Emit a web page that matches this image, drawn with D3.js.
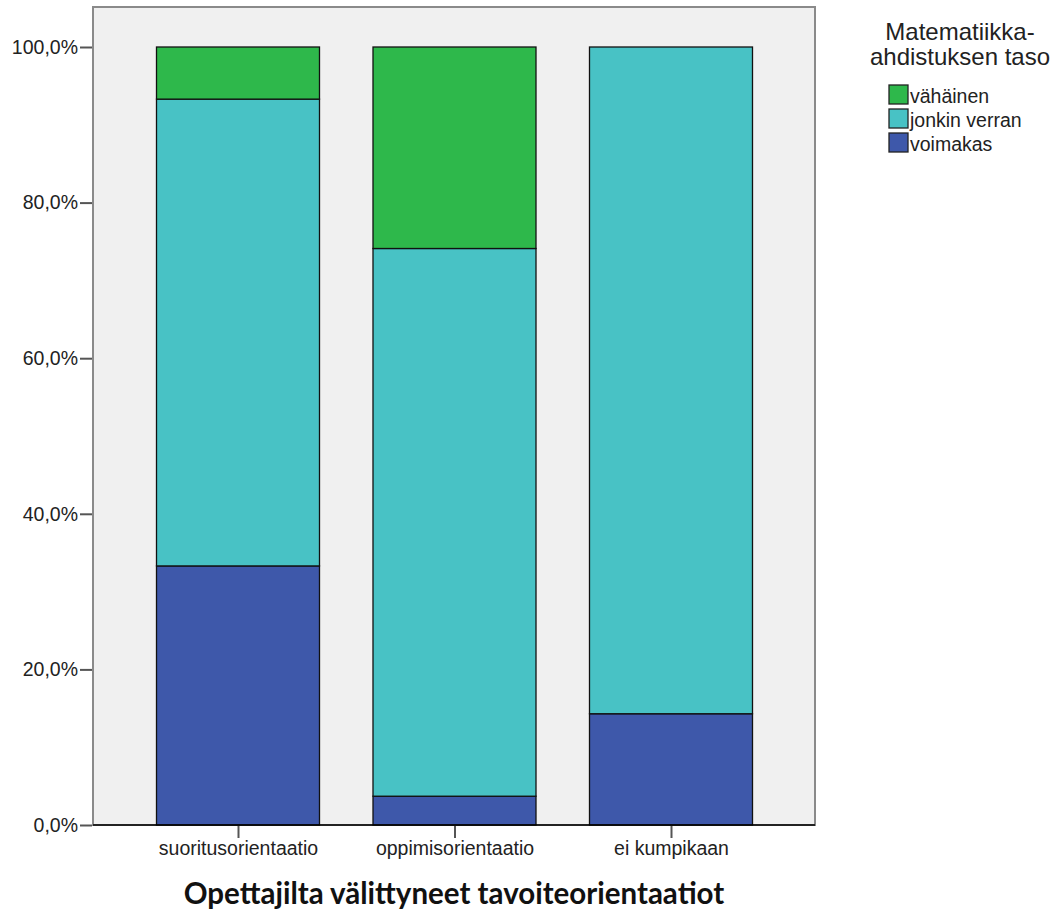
<!DOCTYPE html>
<html><head><meta charset="utf-8">
<script src="https://cdn.jsdelivr.net/npm/d3@7"></script>
<style>body{margin:0;background:#fff}svg{display:block}</style>
</head><body>
<svg id="c" width="1057" height="911"></svg>
<script>
const categories = ["suoritusorientaatio", "oppimisorientaatio", "ei kumpikaan"];
const seriesNames = ["voimakas", "jonkin verran", "vähäinen"];
const voimakas = [33.3, 3.7, 14.3];
const jonkinVerran = [60.0, 70.4, 85.7];
const vahainen = [6.7, 25.9, 0.0];
const yTicks = [0, 20, 40, 60, 80, 100];
const colors = ["#3e58aa", "#48c2c5", "#2eb84b"];
const legendOrder = ["vähäinen", "jonkin verran", "voimakas"];
const legendTitle = ["Matematiikka-", "ahdistuksen taso"];
const xTitle = "Opettajilta välittyneet tavoiteorientaatiot";

const svg = d3.select("#c");
const font = "'Liberation Sans', Arial, sans-serif";
const frame = {l: 93, r: 815, t: 7, b: 825};
const y = d3.scaleLinear().domain([0, 100]).range([825, 47]);
const x = d3.scalePoint().domain(categories).range([238, 671]);
const barW = 163;

svg.append("rect").attr("x", frame.l).attr("y", frame.t)
  .attr("width", frame.r - frame.l).attr("height", frame.b - frame.t)
  .attr("fill", "#f0f0f0").attr("stroke", "#8a8a8a").attr("stroke-width", 2);

const data = categories.map((c, i) => ({cat: c, "voimakas": voimakas[i], "jonkin verran": jonkinVerran[i], "vähäinen": vahainen[i]}));
const stack = d3.stack().keys(seriesNames)(data);
const color = d3.scaleOrdinal().domain(seriesNames).range(colors);

stack.forEach(s => {
  svg.append("g").selectAll("rect").data(s.filter(d => d[1] - d[0] > 0)).join("rect")
    .attr("x", d => x(d.data.cat) - barW / 2)
    .attr("y", d => y(d[1]))
    .attr("width", barW)
    .attr("height", d => y(d[0]) - y(d[1]))
    .attr("fill", color(s.key))
    .attr("stroke", "#111").attr("stroke-width", 1.3);
});

svg.append("line").attr("x1", frame.l).attr("x2", frame.r).attr("y1", 825).attr("y2", 825)
  .attr("stroke", "#000").attr("stroke-width", 1.5);

const yAxis = d3.axisLeft(y).tickValues(yTicks).tickSize(12).tickPadding(2)
  .tickFormat(d => d3.format(".1f")(d).replace(".", ",") + "%");
const gy = svg.append("g").attr("transform", `translate(${frame.l - 1},0)`).call(yAxis);
gy.select(".domain").remove();
gy.selectAll(".tick line").attr("stroke", "#555").attr("stroke-width", 2);
gy.selectAll("text").attr("font-family", font).attr("font-size", 19.5).attr("fill", "#222");

const xAxis = d3.axisBottom(x).tickSize(12).tickPadding(3);
const gx = svg.append("g").attr("transform", `translate(0,826)`).call(xAxis);
gx.select(".domain").remove();
gx.selectAll(".tick line").attr("stroke", "#555").attr("stroke-width", 2);
gx.selectAll("text").attr("font-family", font).attr("font-size", 19.5).attr("fill", "#222");

svg.append("text").attr("x", 454).attr("y", 904).attr("text-anchor", "middle")
  .attr("font-family", "Lato, 'Open Sans', sans-serif").attr("font-weight", "bold").attr("font-size", 29.5).attr("fill", "#111")
  .text(xTitle);

svg.append("g").selectAll("text").data(legendTitle).join("text")
  .attr("x", 960).attr("y", (d, i) => 40 + i * 25).attr("text-anchor", "middle")
  .attr("font-family", font).attr("font-size", 24).attr("fill", "#222").text(d => d);

const lg = svg.append("g").selectAll("g").data(legendOrder).join("g")
  .attr("transform", (d, i) => `translate(889,${85 + i * 24})`);
lg.append("rect").attr("width", 19).attr("height", 19)
  .attr("fill", d => color(d)).attr("stroke", "#222").attr("stroke-width", 1.3);
lg.append("text").attr("x", 21).attr("y", 17.5)
  .attr("font-family", font).attr("font-size", 19.5).attr("fill", "#222").text(d => d);
</script>
</body></html>
